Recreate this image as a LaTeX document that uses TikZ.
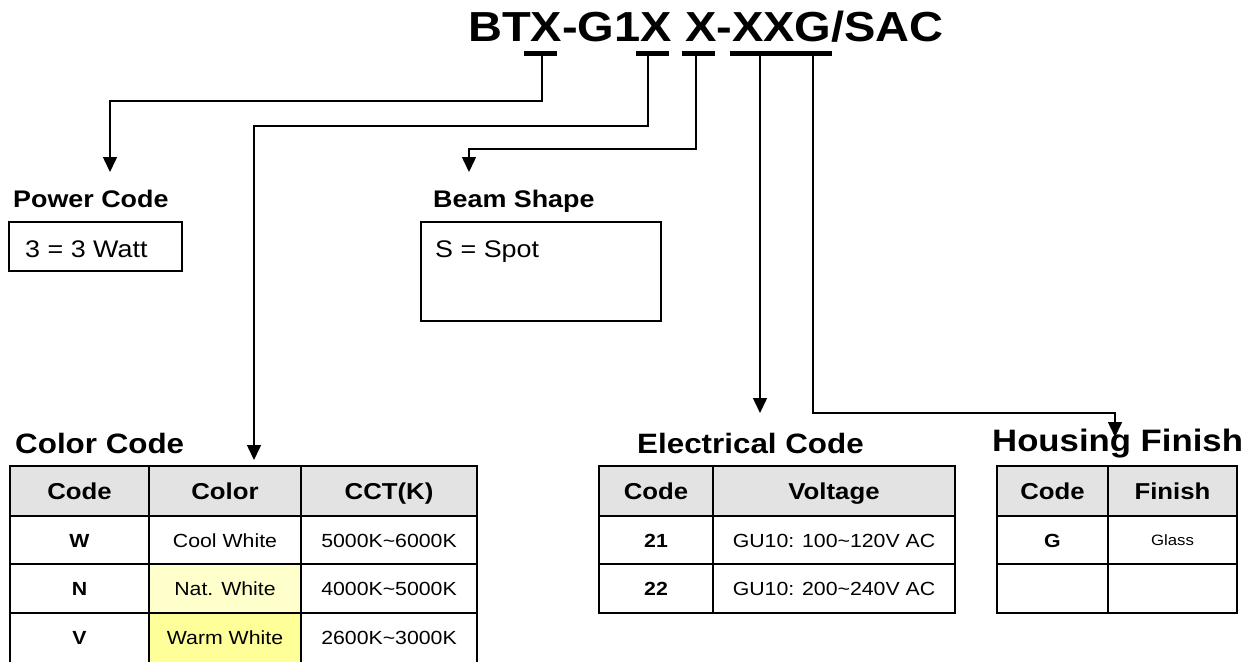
\documentclass[tikz,border=0pt]{standalone}
\usepackage{fontspec}
\setmainfont{Liberation Sans}[FakeStretch=1.12]
\usetikzlibrary{arrows.meta}
\definecolor{hdrgray}{HTML}{E3E3E3}
\definecolor{natw}{HTML}{FFFFCC}
\definecolor{warmw}{HTML}{FFFF99}
\begin{document}
\begin{tikzpicture}[x=1pt,y=-1pt,
  conn/.style={line width=1.5pt,-{Triangle[width=14pt,length=15pt]}},
  uline/.style={line width=5pt},
  boxline/.style={line width=2.4pt},
  tbl/.style={line width=2.6pt},
  titlefont/.style={font=\fontsize{42}{48}\selectfont\bfseries},
  sectfont/.style={anchor=base west,inner sep=0pt,font=\fontsize{24}{28}\selectfont\bfseries},
  bigsect/.style={anchor=base west,inner sep=0pt,font=\fontsize{28}{32}\selectfont\bfseries},
  boxtext/.style={anchor=base west,inner sep=0pt,font=\fontsize{24}{28}\selectfont},
  hcell/.style={anchor=base,inner sep=0pt,font=\fontsize{23}{27}\selectfont\bfseries},
  bcell/.style={anchor=base,inner sep=0pt,font=\fontsize{19}{22}\selectfont},
  kcell/.style={anchor=base,inner sep=0pt,font=\fontsize{19}{22}\selectfont\bfseries},
  scell/.style={anchor=base,inner sep=0pt,font=\fontsize{15}{18}\selectfont}]
\useasboundingbox (0,0) rectangle (1246,662);
\fill[white] (0,0) rectangle (1246,662);

% title
\node[titlefont,anchor=base west,inner sep=0pt] (title) at (468,41) {BTX-G1X X-XXG/SAC};
\draw[uline] (524,53.5) -- (557,53.5);
\draw[uline] (636,53.5) -- (669,53.5);
\draw[uline] (682,53.5) -- (715,53.5);
\draw[uline] (730,53.5) -- (832,53.5);
\coordinate (u1) at (542,56);
\coordinate (u2) at (648,56);
\coordinate (u3) at (696,56);
\coordinate (u4) at (760,56);
\coordinate (u5) at (813,56);

% arrow targets
\coordinate (a1) at (110,172);
\coordinate (a2) at (254,460);
\coordinate (a3) at (469,172);
\coordinate (a4) at (760,413);
\coordinate (a5) at (1115,437);

\draw[conn] (u1) -- ++(0,45) -| (a1);
\draw[conn] (u2) -- ++(0,70) -| (a2);
\draw[conn] (u3) -- ++(0,93) -| (a3);
\draw[conn] (u4) -- (a4);
\draw[conn] (u5) -- ++(0,357) -| (a5);

% power code
\node[sectfont] (pwrlbl) at (13,207) {Power Code};
\draw[boxline] (9,222) rectangle (182,271);
\node[boxtext] (pwrtxt) at (25,257) {3 = 3 Watt};

% beam shape
\node[sectfont] (beamlbl) at (433,207) {Beam Shape};
\draw[boxline] (421,222) rectangle (661,321);
\node[boxtext] (beamtxt) at (435,257) {S = Spot};

% section titles
\node[bigsect] (colorlbl) at (15,453) {Color Code};
\node[bigsect] (eleclbl) at (637,453) {Electrical Code};
\node[bigsect,font=\fontsize{31}{35}\selectfont\bfseries] (houslbl) at (992,451) {Housing Finish};

% color table
\fill[hdrgray] (10,466) rectangle (477,516);
\fill[natw] (149,564) rectangle (301,613);
\fill[warmw] (149,613) rectangle (301,662);
\draw[tbl] (10,662) -- (10,466) -- (477,466) -- (477,662);
\draw[tbl] (149,466) -- (149,662);
\draw[tbl] (301,466) -- (301,662);
\foreach \yy in {516,564,613} \draw[tbl] (10,\yy) -- (477,\yy);
\node[hcell] (c-h1) at (79.5,499) {Code};
\node[hcell] (c-h2) at (225,499) {Color};
\node[hcell] (c-h3) at (389,499) {CCT(K)};
\node[kcell] (c-11) at (79.5,547) {W};
\node[bcell] (c-12) at (225,547) {Cool White};
\node[bcell] (c-13) at (389,547) {5000K\char`\~6000K};
\node[kcell] (c-21) at (79.5,595.5) {N};
\node[bcell] (c-22) at (225,595.5) {Nat. White};
\node[bcell] (c-23) at (389,595.5) {4000K\char`\~5000K};
\node[kcell] (c-31) at (79.5,644.5) {V};
\node[bcell] (c-32) at (225,644.5) {Warm White};
\node[bcell] (c-33) at (389,644.5) {2600K\char`\~3000K};

% electrical table
\fill[hdrgray] (599,466) rectangle (955,516);
\draw[tbl] (599,466) rectangle (955,613);
\draw[tbl] (713,466) -- (713,613);
\foreach \yy in {516,564} \draw[tbl] (599,\yy) -- (955,\yy);
\node[hcell] (e-h1) at (656,499) {Code};
\node[hcell] (e-h2) at (834,499) {Voltage};
\node[kcell] (e-11) at (656,547) {21};
\node[bcell] (e-12) at (834,547) {GU10: 100\char`\~120V AC};
\node[kcell] (e-21) at (656,595.5) {22};
\node[bcell] (e-22) at (834,595.5) {GU10: 200\char`\~240V AC};

% housing table
\fill[hdrgray] (997,466) rectangle (1237,516);
\draw[tbl] (997,466) rectangle (1237,613);
\draw[tbl] (1108,466) -- (1108,613);
\foreach \yy in {516,564} \draw[tbl] (997,\yy) -- (1237,\yy);
\node[hcell] (h-h1) at (1052.5,499) {Code};
\node[hcell] (h-h2) at (1172.5,499) {Finish};
\node[kcell] (h-11) at (1052.5,547) {G};
\node[scell] (h-12) at (1172.5,545.5) {Glass};
\end{tikzpicture}
\end{document}
